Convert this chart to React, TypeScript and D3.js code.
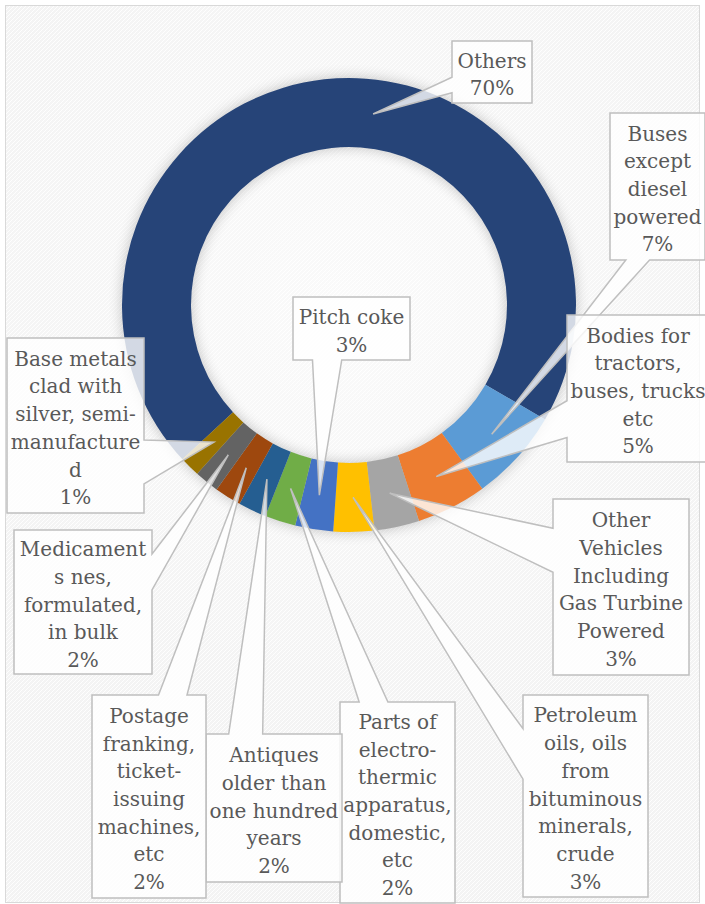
import React from "react";
import * as d3 from "d3";

// ---------- data ----------
const categories = [
  "Others",
  "Buses except diesel powered",
  "Bodies for tractors, buses, trucks etc",
  "Other Vehicles Including Gas Turbine Powered",
  "Petroleum oils, oils from bituminous minerals, crude",
  "Pitch coke",
  "Parts of electro-thermic apparatus, domestic, etc",
  "Antiques older than one hundred years",
  "Postage franking, ticket-issuing machines, etc",
  "Medicaments nes, formulated, in bulk",
  "Base metals clad with silver, semi-manufactured",
];
const values = [70.3, 6.6, 5.0, 3.2, 2.9, 2.7, 2.2, 2.0, 1.9, 1.75, 1.45];
const colors = [
  "#264478", "#5B9BD5", "#ED7D31", "#A5A5A5", "#FFC000", "#4472C4",
  "#70AD47", "#255E91", "#9E480E", "#636363", "#997300",
];
// wrapped label lines as shown in the chart
const labelLines = [
  ["Others"],
  ["Buses", "except", "diesel", "powered"],
  ["Bodies for", "tractors,", "buses, trucks", "etc"],
  ["Other", "Vehicles", "Including", "Gas Turbine", "Powered"],
  ["Petroleum", "oils, oils", "from", "bituminous", "minerals,", "crude"],
  ["Pitch coke"],
  ["Parts of", "electro-", "thermic", "apparatus,", "domestic,", "etc"],
  ["Antiques", "older than", "one hundred", "years"],
  ["Postage", "franking,", "ticket-", "issuing", "machines,", "etc"],
  ["Medicament", "s nes,", "formulated,", "in bulk"],
  ["Base metals", "clad with", "silver, semi-", "manufacture", "d"],
];

// ---------- layout ----------
const W = 705, H = 904;
const CX = 349, CY = 305, R_OUT = 227, R_IN = 158;
const START_DEG = -132.8;
const FONT = "DejaVu Serif";
// label boxes [x, y, w, h], optional forced edge, optional tip angle
const labelBoxes: { b: [number, number, number, number]; edge?: string; tipDeg?: number }[] = [
  { b: [452, 41, 80, 62], tipDeg: 7.2 },
  { b: [610, 113, 95, 147], edge: "bottom" },
  { b: [567, 315, 142, 147] },
  { b: [553, 499, 136, 176] },
  { b: [523, 695, 125, 202] },
  { b: [293, 297, 117, 63] },
  { b: [340, 702, 115, 201] },
  { b: [206, 734, 136, 148] },
  { b: [92, 695, 114, 203] },
  { b: [14, 530, 138, 144] },
  { b: [7, 338, 137, 175] },
];

function calloutPath(l: number, t: number, w: number, h: number, px: number, py: number, edge?: string) {
  const r = l + w, b = t + h;
  const dx = px - (l + w / 2), dy = py - (t + h / 2);
  const dq = (dx * h) / w;
  let e = edge;
  if (!e) {
    if (Math.abs(dy) - Math.abs(dq) > 0) e = dy < 0 ? "top" : "bottom";
    else e = dx < 0 ? "left" : "right";
  }
  const x1 = l + (w * (dx > 0 ? 7 : 2)) / 12, x2 = l + (w * (dx > 0 ? 10 : 5)) / 12;
  const y1 = t + (h * (dy > 0 ? 7 : 2)) / 12, y2 = t + (h * (dy > 0 ? 10 : 5)) / 12;
  if (e === "top") return `M${l},${t}L${x1},${t}L${px},${py}L${x2},${t}L${r},${t}L${r},${b}L${l},${b}Z`;
  if (e === "bottom") return `M${l},${t}L${r},${t}L${r},${b}L${x2},${b}L${px},${py}L${x1},${b}L${l},${b}Z`;
  if (e === "left") return `M${l},${t}L${r},${t}L${r},${b}L${l},${b}L${l},${y2}L${px},${py}L${l},${y1}Z`;
  return `M${l},${t}L${r},${t}L${r},${y1}L${px},${py}L${r},${y2}L${r},${b}L${l},${b}Z`;
}

export default function App() {
  const total = d3.sum(values);
  const pct = d3.format(".0%");
  const start = (START_DEG * Math.PI) / 180;
  const pie = d3.pie<number>().sort(null).value((d) => d).startAngle(start).endAngle(start + 2 * Math.PI);
  const arcs = pie(values);
  const arc = d3.arc<d3.PieArcDatum<number>>().innerRadius(R_IN).outerRadius(R_OUT);
  const ringPath = d3.arc()({ innerRadius: R_IN, outerRadius: R_OUT, startAngle: 0, endAngle: 2 * Math.PI }) as string;
  const LH = 27.7;
  const FS = 20;

  return (
    <svg width={W} height={H} style={{ position: "absolute", left: 0, top: 0 }}>
      <defs>
        <pattern id="weave" width="4" height="4" patternUnits="userSpaceOnUse">
          <rect width="4" height="4" fill="#f3f3f3" />
          <path d="M0,4L4,0M-1,1L1,-1M3,5L5,3" stroke="#ffffff" strokeWidth="0.9" />
        </pattern>
        <radialGradient id="glow" cx={CX} cy={CY} r="420" gradientUnits="userSpaceOnUse">
          <stop offset="0" stopColor="#ffffff" stopOpacity="0.6" />
          <stop offset="1" stopColor="#ffffff" stopOpacity="0.05" />
        </radialGradient>
        <filter id="blur" x="-30%" y="-30%" width="160%" height="160%">
          <feGaussianBlur stdDeviation="7" />
        </filter>
      </defs>
      <rect x={5.5} y={5.5} width={694} height={897} fill="url(#weave)" stroke="#d9d9d9" strokeWidth={1} />
      <rect x={6} y={6} width={693} height={896} fill="url(#glow)" />
      <g transform={`translate(${CX},${CY})`}>
        <path d={ringPath} fill="#000" opacity={0.22} filter="url(#blur)" />
        {arcs.map((a, i) => (
          <path key={i} d={arc(a) as string} fill={colors[i]} />
        ))}
      </g>
      {arcs.map((a, i) => {
        const lb = labelBoxes[i];
        const [l, t, w, h] = lb.b;
        let tx: number, ty: number;
        if (lb.tipDeg !== undefined) {
          const ang = (lb.tipDeg * Math.PI) / 180;
          const rm = (R_IN + R_OUT) / 2;
          tx = CX + rm * Math.sin(ang);
          ty = CY - rm * Math.cos(ang);
        } else {
          const c = arc.centroid(a);
          tx = CX + c[0];
          ty = CY + c[1];
        }
        const lines = [...labelLines[i], pct(values[i] / total)];
        const n = lines.length;
        const cx = l + w / 2, cy = t + h / 2;
        return (
          <g key={"lab" + i}>
            <path d={calloutPath(l, t, w, h, tx, ty, lb.edge)} fill="#ffffff" fillOpacity={0.8}
              stroke="#bfbfbf" strokeWidth={1.5} />
            <text textAnchor="middle" fill="#595959" fontFamily={FONT} fontSize={FS}>
              {lines.map((s, k) => (
                <tspan key={k} x={cx} y={cy + (k - (n - 1) / 2) * LH + 9.5}>{s}</tspan>
              ))}
            </text>
          </g>
        );
      })}
    </svg>
  );
}
